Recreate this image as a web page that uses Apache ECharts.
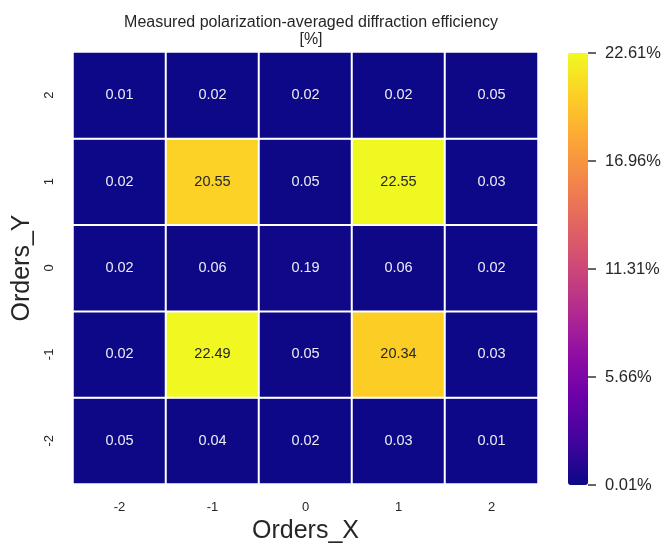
<!DOCTYPE html>
<html><head><meta charset="utf-8">
<script src="https://cdn.jsdelivr.net/npm/echarts@6/dist/echarts.min.js"></script>
<style>html,body{margin:0;padding:0;background:#fff}#c{width:665px;height:543px}</style>
</head><body><div id="c"></div>
<script>
var xCategories = ['-2', '-1', '0', '1', '2'];
var yCategories = ['-2', '-1', '0', '1', '2'];
// rows listed from top (Y=2) to bottom (Y=-2), columns X=-2..2
var rowY2  = [0.01, 0.02, 0.02, 0.02, 0.05];
var rowY1  = [0.02, 20.55, 0.05, 22.55, 0.03];
var rowY0  = [0.02, 0.06, 0.19, 0.06, 0.02];
var rowYm1 = [0.02, 22.49, 0.05, 20.34, 0.03];
var rowYm2 = [0.05, 0.04, 0.02, 0.03, 0.01];
var colorbarTicks = [0.01, 5.66, 11.31, 16.96, 22.61];
var vMin = 0.01, vMax = 22.61;

var rows = [rowYm2, rowYm1, rowY0, rowY1, rowY2];
var data = [];
rows.forEach(function (r, yi) {
  r.forEach(function (v, xi) {
    data.push({ value: [xi, yi, v], label: { color: v > 11 ? '#262626' : '#ececf2' } });
  });
});

var plasma = ['#0d0887','#41049d','#6a00a8','#8f0da4','#b12a90','#cc4778','#e16462','#f2844b','#fca636','#fcce25','#f0f921'];
var font = 'Liberation Sans, Arial, sans-serif';

var chart = echarts.init(document.getElementById('c'));
chart.setOption({
  animation: false,
  title: {
    text: 'Measured polarization-averaged diffraction efficiency\n[%]',
    left: 306, top: 9, textAlign: 'center',
    textStyle: { fontFamily: font, fontSize: 16, fontWeight: 'normal', color: '#262626', lineHeight: 17 }
  },
  grid: [
    { left: 73, top: 52, width: 465, height: 432, containLabel: false, outerBoundsMode: 'none' },
    { left: 568, top: 53, width: 20, height: 432, containLabel: false, outerBoundsMode: 'none' }
  ],
  xAxis: [
    { type: 'category', gridIndex: 0, data: xCategories, name: 'Orders_X', nameLocation: 'middle', nameGap: 34,
      nameTextStyle: { fontFamily: font, fontSize: 25, color: '#262626' },
      axisLine: { show: false }, axisTick: { show: false }, splitLine: { show: false },
      axisLabel: { fontFamily: font, fontSize: 13, color: '#262626', margin: 17 } },
    { type: 'category', gridIndex: 1, data: ['a'], show: false }
  ],
  yAxis: [
    { type: 'category', gridIndex: 0, data: yCategories, name: 'Orders_Y', nameLocation: 'middle', nameGap: 33,
      nameTextStyle: { fontFamily: font, fontSize: 25, color: '#262626' },
      axisLine: { show: false }, axisTick: { show: false }, splitLine: { show: false },
      axisLabel: { fontFamily: font, fontSize: 13, color: '#262626', rotate: 90, margin: 17 } },
    { type: 'value', gridIndex: 1, position: 'right', min: vMin, max: vMax,
      axisLine: { show: false }, splitLine: { show: false },
      axisTick: { show: true, length: 8, lineStyle: { color: '#333', width: 1.5 }, customValues: colorbarTicks },
      axisLabel: { fontFamily: font, fontSize: 16.5, color: '#262626', margin: 17, customValues: colorbarTicks,
        formatter: function (v) { return Number(v).toFixed(2) + '%'; } } }
  ],
  visualMap: {
    type: 'continuous', min: vMin, max: vMax, seriesIndex: 0, dimension: 2,
    inRange: { color: plasma },
    show: true, calculable: false, text: ['', ''], padding: 0,
    left: 568, top: 53, itemWidth: 20, itemHeight: 432
  },
  series: [{
    type: 'heatmap', xAxisIndex: 0, yAxisIndex: 0, data: data,
    itemStyle: { borderColor: '#ffffff', borderWidth: 2 },
    label: {
      show: true, fontFamily: font, fontSize: 14.5,
      formatter: function (p) { return p.value[2].toFixed(2); }
    }
  }]
});
</script></body></html>
